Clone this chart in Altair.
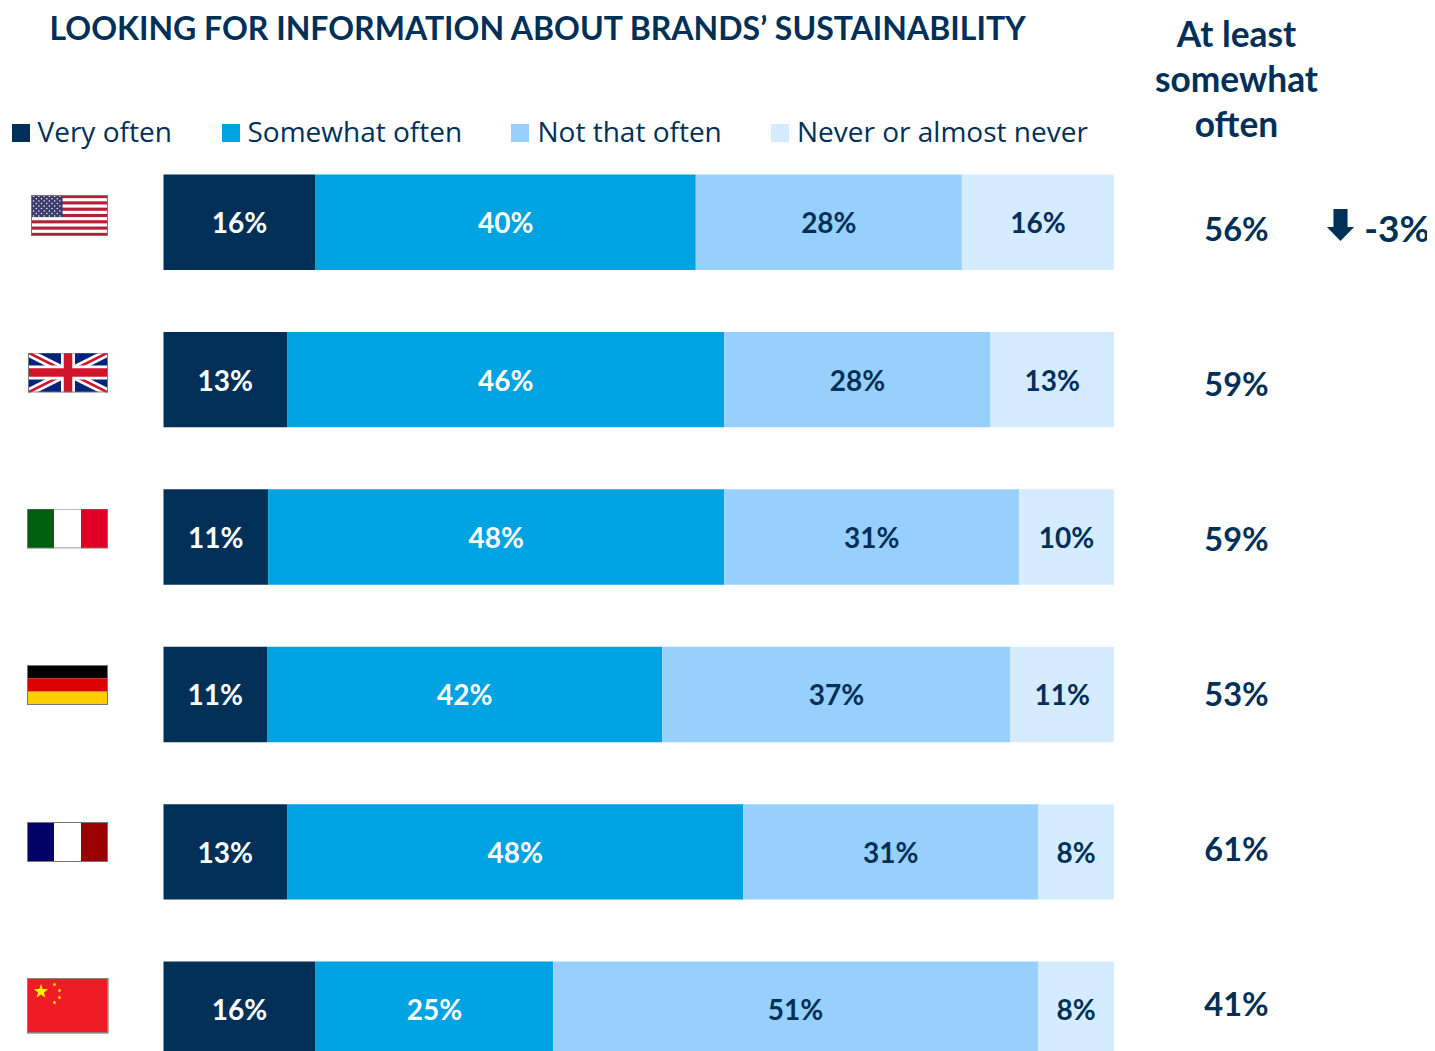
import base64
import math
import altair as alt
import pandas as pd

# ---- chart values ----
countries = ["USA", "UK", "Italy", "Germany", "France", "China"]
categories = ["Very often", "Somewhat often", "Not that often", "Never or almost never"]
very_often = [16, 13, 11, 11, 13, 16]
somewhat_often = [40, 46, 48, 42, 48, 25]
not_that_often = [28, 28, 31, 37, 31, 51]
never = [16, 13, 10, 11, 8, 8]
at_least = ["56%", "59%", "59%", "53%", "61%", "41%"]
delta_country = ["USA"]
delta_text = ["-3%"]
title_text = "LOOKING FOR INFORMATION ABOUT BRANDS\u2019 SUSTAINABILITY"
side_title = ["At least", "somewhat", "often"]

# ---- styles ----
NAVY = "#003057"
colors = ["#003057", "#00A3E1", "#98D0FD", "#D5EBFF"]
label_colors = ["#FFFFFF", "#FFFFFF", NAVY, NAVY]
FONT = "Lato"
LEG_FONT = "Open Sans"

rows = []
for k, (cat, series) in enumerate(zip(categories, [very_often, somewhat_often, not_that_often, never])):
    for c, v in zip(countries, series):
        rows.append({"country": c, "category": cat, "order": k, "value": v})
df = pd.DataFrame(rows)

x_scale = alt.Scale(domain=[0, 1], range=[155.5, 1106])
y_scale = alt.Scale(type="band", domain=countries, range=[166.5, 1049], paddingInner=0.3937, paddingOuter=0)
base = alt.Chart(df).transform_stack(
    stack="value", groupby=["country"], as_=["v0", "v1"], offset="normalize",
    sort=[alt.SortField("order", order="ascending")],
).transform_calculate(mid="(datum.v0 + datum.v1) / 2", label="datum.value + '%'")

bars = base.mark_bar(clip=True).encode(
    x=alt.X("v0:Q", scale=x_scale, axis=None),
    x2="v1:Q",
    y=alt.Y("country:N", scale=y_scale, axis=None),
    color=alt.Color("category:N", scale=alt.Scale(domain=categories, range=colors), legend=None),
)
labels = base.mark_text(font=FONT, fontWeight="bold", fontSize=28, baseline="middle", dy=3).encode(
    x=alt.X("mid:Q", scale=x_scale, axis=None),
    y=alt.Y("country:N", scale=y_scale, axis=None),
    text="label:N",
    color=alt.Color("category:N", scale=alt.Scale(domain=categories, range=label_colors), legend=None),
)

# right-hand column
side_scale = alt.Scale(type="point", domain=countries, range=[222.5, 997.5], padding=0)
side_df = pd.DataFrame({"country": countries, "txt": at_least})
side = alt.Chart(side_df).mark_text(font=FONT, fontWeight="bold", fontSize=32.5, color=NAVY, baseline="middle").encode(
    x=alt.value(1228.5),
    y=alt.Y("country:N", scale=side_scale, axis=None),
    text="txt:N",
)
delta_df = pd.DataFrame({"country": delta_country, "txt": delta_text})
delta = alt.Chart(delta_df).mark_text(font=FONT, fontWeight="bold", fontSize=37, color=NAVY, baseline="middle").encode(
    x=alt.value(1389),
    y=alt.Y("country:N", scale=side_scale, axis=None),
    text="txt:N",
)
arrow_path = "M-0.44,-1 L0.44,-1 L0.44,0.125 L0.85,0.125 L0,1 L-0.85,0.125 L-0.44,0.125 Z"
arrow = alt.Chart(delta_df).mark_point(shape=arrow_path, size=1024, filled=True, color=NAVY, opacity=1, strokeWidth=0).encode(
    x=alt.value(1332.5),
    y=alt.value(217),
)

layers = [bars, labels, side, delta, arrow]


def note(text, px, py, size, font=FONT, weight="bold", align="center"):
    return alt.Chart(alt.Data(values=[{"t": text}])).mark_text(
        font=font, fontWeight=weight, fontSize=size, color=NAVY, align=align, baseline="middle"
    ).encode(x=alt.value(px), y=alt.value(py), text="t:N")


layers.append(note(title_text, 41.5, 21.5, 32, align="left"))
for s, py in zip(side_title, [28, 73, 118]):
    layers.append(note(s, 1228.5, py, 35.3))

# legend block
swatch_x = [13, 223, 512, 772]
text_x = [29.5, 239.5, 529.5, 789]
for cat, col, sx, tx in zip(categories, colors, swatch_x, text_x):
    layers.append(
        alt.Chart(alt.Data(values=[{"c": cat}])).mark_square(size=324, color=col, opacity=1, strokeWidth=0).encode(
            x=alt.value(sx), y=alt.value(125)
        )
    )
    layers.append(note(cat, tx, 126, 28, font=LEG_FONT, weight="normal", align="left"))


# flags
def svg_uri(w, h, body):
    svg = (f'<svg xmlns="http://www.w3.org/2000/svg" width="{w}" height="{h}" viewBox="0 0 {w} {h}" '
           f'preserveAspectRatio="none">{body}'
           f'<rect x="0.5" y="0.5" width="{w-1}" height="{h-1}" fill="none" stroke="#777" stroke-width="1"/></svg>')
    return "data:image/svg+xml;base64," + base64.b64encode(svg.encode()).decode()


def flag_us(w=77, h=41):
    b = f'<rect width="{w}" height="{h}" fill="#fff"/>'
    sh = h / 13
    for i in range(0, 13, 2):
        b += f'<rect y="{i*sh:.2f}" width="{w}" height="{sh:.2f}" fill="#B22234"/>'
    b += f'<rect width="{w*0.41:.1f}" height="{sh*7:.2f}" fill="#3C3B6E"/>'
    for r in range(9):
        for c in range(6 if r % 2 == 0 else 5):
            cx = (c + (0.5 if r % 2 == 0 else 1)) * w * 0.41 / 6
            cy = (r + 0.5) * sh * 7 / 9
            b += f'<circle cx="{cx:.1f}" cy="{cy:.1f}" r="0.75" fill="#fff"/>'
    return svg_uri(w, h, b)


def flag_uk(w=80, h=40):
    b = f'<rect width="{w}" height="{h}" fill="#00247D"/>'
    b += f'<path d="M0,0L{w},{h}M{w},0L0,{h}" stroke="#fff" stroke-width="8"/>'
    b += f'<path d="M0,0L{w},{h}M{w},0L0,{h}" stroke="#CF142B" stroke-width="2.6"/>'
    b += f'<path d="M{w/2},0V{h}M0,{h/2}H{w}" stroke="#fff" stroke-width="14"/>'
    b += f'<path d="M{w/2},0V{h}M0,{h/2}H{w}" stroke="#CF142B" stroke-width="8.5"/>'
    return svg_uri(w, h, b)


def flag_v(cols, w=81, h=40):
    b = "".join(f'<rect x="{i*w/3:.2f}" width="{w/3:.2f}" height="{h}" fill="{c}"/>' for i, c in enumerate(cols))
    return svg_uri(w, h, b)


def flag_h(cols, w=81, h=40):
    b = "".join(f'<rect y="{i*h/3:.2f}" width="{w}" height="{h/3:.2f}" fill="{c}"/>' for i, c in enumerate(cols))
    return svg_uri(w, h, b)


def star(cx, cy, r):
    pts = []
    for i in range(10):
        rr = r if i % 2 == 0 else r * 0.4
        a = -math.pi / 2 + i * math.pi / 5
        pts.append(f"{cx + rr*math.cos(a):.2f},{cy + rr*math.sin(a):.2f}")
    return f'<polygon points="{" ".join(pts)}" fill="#FFF200"/>'


def flag_cn(w=82, h=56):
    b = f'<rect width="{w}" height="{h}" fill="#EF1C25"/>'
    b += star(14.5, 14, 7.5) + star(28, 7, 2.3) + star(33, 13, 2.3) + star(33, 20, 2.3) + star(28, 25, 2.3)
    b = b + f'<rect x="0.5" y="0.5" width="{w-1}" height="{h-1}" fill="none" stroke="#A5A5A5" stroke-width="1.5"/>'
    return svg_uri(w, h, b)


flags = [
    (flag_us(), 23, 187, 77, 41),
    (flag_uk(), 20, 344.5, 80, 40),
    (flag_v(["#005E0E", "#FFFFFF", "#E10025"]), 19, 500.5, 81, 40),
    (flag_h(["#000000", "#DD0000", "#FFCE00"]), 19, 657, 81, 40),
    (flag_v(["#000066", "#FFFFFF", "#9B0000"]), 19, 814, 81, 40),
    (flag_cn(), 18.5, 969.5, 82, 56),
]
for uri, fx, fy, fw, fh in flags:
    layers.append(
        alt.Chart(alt.Data(values=[{"u": uri}])).mark_image(
            width=fw, height=fh, align="left", baseline="top", aspect=False
        ).encode(x=alt.value(fx), y=alt.value(fy), url="u:N")
    )

chart = alt.layer(*layers).resolve_scale(y="independent", color="independent", x="independent").properties(
    width=1419, height=1043, padding=0, autosize=alt.AutoSizeParams(type="none"),
    background="#FFFFFF",
).configure_view(stroke=None)

chart.save("out.html", embed_options={"renderer": "svg", "actions": False})
